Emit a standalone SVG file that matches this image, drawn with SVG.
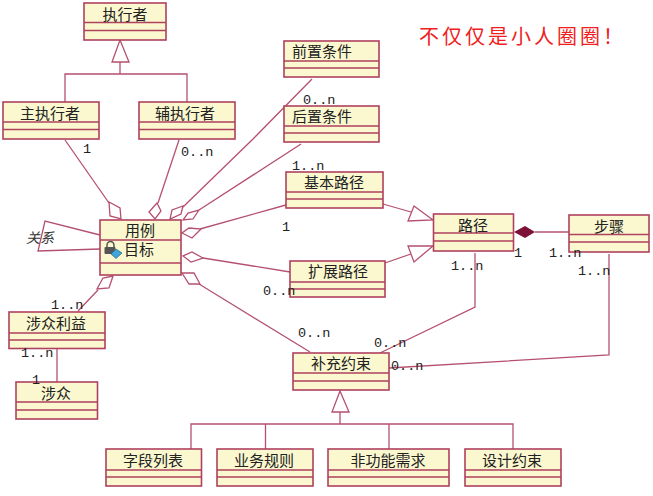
<svg xmlns="http://www.w3.org/2000/svg" width="653" height="496" viewBox="0 0 653 496">
<style>
.box{fill:#fbf8cf;stroke:#b0405f;stroke-width:1.6}
.sep{stroke:#b0405f;stroke-width:1.4;fill:none}
.line{stroke:#b5506f;stroke-width:1.3;fill:none}
.open{stroke:#b5506f;stroke-width:1.3;fill:#fff}
.name{font-family:"Noto Sans CJK SC","Liberation Sans",sans-serif;font-size:15px;fill:#222;text-anchor:middle}
.mult{font-family:"Liberation Mono","DejaVu Sans Mono",monospace;font-size:13.5px;fill:#222}
</style>
<rect width="653" height="496" fill="#fff"/>
<g id="connectors">
<path class="line" d="M120 62V74M65 102V74H187V102"/>
<polygon class="open" points="120,40 129,62 112,62"/>
<path class="line" d="M340 412V424M191 449V424H513V449M265.500 424V449M389 424V449"/>
<polygon class="open" points="340,391 349,412 332,412"/>
<path class="line" d="M65 140L109 203"/>
<polygon class="open" points="109,202 120,208 121,219 110,216"/>
<path class="line" d="M179 140L158 203"/>
<polygon class="open" points="157,203 161,211 155,219 149,212"/>
<path class="line" d="M312 79L253 139L183 207"/>
<polygon class="open" points="183,206 181,214 170,219 172,210"/>
<path class="line" d="M301 144L199 210"/>
<polygon class="open" points="199,210 193,219 183,220 188,213"/>
<path class="line" d="M286 205L200 229"/>
<polygon class="open" points="201,229 192,238 182,233 189,228"/>
<path class="line" d="M290 272L203 258"/>
<polygon class="open" points="203,258 192,252 183,256 191,262"/>
<path class="line" d="M310 352L199 284"/>
<polygon class="open" points="182,273 194,273 200,284 189,284"/>
<path class="line" d="M78 311L98 290"/>
<polygon class="open" points="113,276 103,278 97,289 109,288"/>
<path class="line" d="M100 235L45 221L38 251L100 249"/>
<path class="line" d="M57 349V382"/>
<path class="line" d="M383 204L411 212"/>
<polygon class="open" points="433,220 414,206 408,221"/>
<path class="line" d="M385 263L411 254"/>
<polygon class="open" points="433,246 408,246 414,262"/>
<path class="line" d="M535 232H569"/>
<polygon points="514,232 525,226 535,232 525,238" fill="#7d1238"/>
<path class="line" d="M475 253V307L380 353"/>
<path class="line" d="M609 254V355L389 368"/>
</g>
<g id="n-zhixingzhe"><rect class="box" x="84" y="3" width="82" height="37"/><path class="sep" d="M84 22.500H166M84 30.500H166"/><text class="name" x="125" y="20">执行者</text></g>
<g id="n-zhu"><rect class="box" x="3" y="102" width="96" height="37"/><path class="sep" d="M3 122H99M3 129.500H99"/><text class="name" x="50" y="119">主执行者</text></g>
<g id="n-fu"><rect class="box" x="139" y="102" width="96" height="37"/><path class="sep" d="M139 122H235M139 129.500H235"/><text class="name" x="185" y="119">辅执行者</text></g>
<g id="n-qianzhi"><rect class="box" x="284" y="41" width="95" height="36"/><path class="sep" d="M284 61H379M284 68H379"/><text class="name" x="322" y="57">前置条件</text></g>
<g id="n-houzhi"><rect class="box" x="284" y="106" width="95" height="36"/><path class="sep" d="M284 126H379M284 133H379"/><text class="name" x="322" y="122">后置条件</text></g>
<g id="n-jiben"><rect class="box" x="286" y="172" width="97" height="36"/><path class="sep" d="M286 192H383M286 199H383"/><text class="name" x="334" y="188">基本路径</text></g>
<g id="n-kuozhan"><rect class="box" x="290" y="261" width="95" height="36"/><path class="sep" d="M290 282H385M290 289H385"/><text class="name" x="338" y="277">扩展路径</text></g>
<g id="n-lujing"><rect class="box" x="433.500" y="214" width="80" height="37"/><path class="sep" d="M433.500 233H513.500M433.500 241H513.500"/><text class="name" x="473" y="231">路径</text></g>
<g id="n-buzhou"><rect class="box" x="569" y="215" width="80" height="37"/><path class="sep" d="M569 234.500H649M569 242H649"/><text class="name" x="609" y="232">步骤</text></g>
<g id="n-yongli"><rect class="box" x="100" y="220" width="81" height="55"/><path class="sep" d="M100 240H181M100 263H181"/><text class="name" x="140" y="236">用例</text>
<path d="M107 247v-2a3.500 3.500 0 0 1 7 0v2" fill="none" stroke="#555" stroke-width="1.500"/><rect x="104.500" y="247" width="11" height="7" rx="1" fill="#555"/><polygon points="116,249 122,253 116,258.500 111,254" fill="#3fa5d8" stroke="#26617f" stroke-width="0.700"/>
<text class="name" x="139" y="255">目标</text></g>
<g id="n-liyi"><rect class="box" x="9" y="312" width="96" height="36.500"/><path class="sep" d="M9 333H105M9 340H105"/><text class="name" x="56" y="329">涉众利益</text></g>
<g id="n-shezhong"><rect class="box" x="16" y="382" width="81.500" height="37"/><path class="sep" d="M16 402H97.500M16 410H97.500"/><text class="name" x="56" y="399">涉众</text></g>
<g id="n-buchong"><rect class="box" x="293" y="353" width="96" height="37"/><path class="sep" d="M293 373H389M293 381H389"/><text class="name" x="341" y="369">补充约束</text></g>
<g id="n-ziduan"><rect class="box" x="106" y="449" width="95.500" height="37"/><path class="sep" d="M106 470H201.500M106 477H201.500"/><text class="name" x="153" y="466">字段列表</text></g>
<g id="n-yewu"><rect class="box" x="217" y="449" width="96" height="37"/><path class="sep" d="M217 470H313M217 477H313"/><text class="name" x="264" y="466">业务规则</text></g>
<g id="n-feigongneng"><rect class="box" x="328" y="449" width="121" height="37"/><path class="sep" d="M328 470H449M328 477H449"/><text class="name" x="388" y="466">非功能需求</text></g>
<g id="n-sheji"><rect class="box" x="465" y="449" width="96" height="37"/><path class="sep" d="M465 470H561M465 477H561"/><text class="name" x="512" y="466">设计约束</text></g>
<g id="labels">
<text x="26" y="243" font-family="Noto Sans CJK SC,sans-serif" font-size="14" font-style="italic" fill="#333">关系</text>
<text x="419" y="44" font-family="Noto Sans CJK SC,sans-serif" font-size="20" letter-spacing="3" fill="#f02020">不仅仅是小人圈圈！</text>
<text class="mult" x="83" y="153">1</text>
<text class="mult" x="181" y="156">0..n</text>
<text class="mult" x="303" y="104">0..n</text>
<text class="mult" x="292" y="170">1..n</text>
<text class="mult" x="282" y="231">1</text>
<text class="mult" x="263" y="295">0..n</text>
<text class="mult" x="298" y="337">0..n</text>
<text class="mult" x="51" y="309">1..n</text>
<text class="mult" x="21" y="357">1..n</text>
<text class="mult" x="32" y="384">1</text>
<text class="mult" x="514" y="257">1</text>
<text class="mult" x="549" y="257">1..n</text>
<text class="mult" x="578" y="275">1..n</text>
<text class="mult" x="451" y="270">1..n</text>
<text class="mult" x="374" y="347">0..n</text>
<text class="mult" x="391" y="370">0..n</text>
</g>
</svg>
